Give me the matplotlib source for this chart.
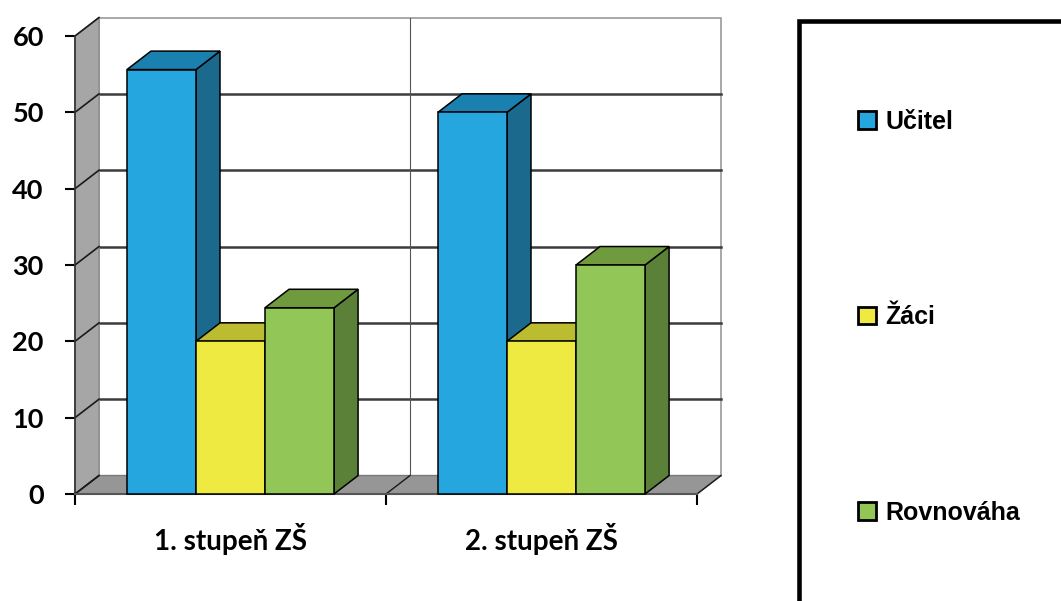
import matplotlib
matplotlib.use("Agg")
import matplotlib.pyplot as plt
from matplotlib.patches import Polygon, Rectangle, Patch
from matplotlib.lines import Line2D

# --- data -------------------------------------------------------------
categories = ["1. stupeň ZŠ", "2. stupeň ZŠ"]
series_names = ["Učitel", "Žáci", "Rovnováha"]
ucitel = [55.6, 50.0]
zaci = [20.0, 20.0]
rovnovaha = [24.4, 30.0]
y_ticks = [0, 10, 20, 30, 40, 50, 60]

series_values = [ucitel, zaci, rovnovaha]

# --- style ------------------------------------------------------------
front_colors = ["#26a6de", "#eeea42", "#92c757"]
top_colors = ["#1a80b0", "#bcbc30", "#709a3e"]
side_colors = ["#1b6a8e", "#a8a82a", "#5b8038"]
wall_color = "#a6a6a6"
floor_color = "#969696"
grid_color = "#3c3c3c"

DX = 0.0772   # depth offset along x (category units)
DY = 2.42     # depth offset along y (value units)
BAR_W = 0.222
YMAX = y_ticks[-1]
NCAT = len(categories)

fig = plt.figure(figsize=(10.61, 6.01), dpi=100)
ax = fig.add_axes([75 / 1061, 1 - 494 / 601, 622 / 1061, 458 / 601])
ax.set_xlim(0, NCAT)
ax.set_ylim(0, YMAX)
for s in ax.spines.values():
    s.set_visible(False)
ax.patch.set_visible(False)

# back wall
ax.add_patch(Polygon([(DX, DY), (NCAT + DX, DY), (NCAT + DX, YMAX + DY), (DX, YMAX + DY)],
                     closed=True, facecolor="white", edgecolor="#9a9a9a", lw=1.2,
                     clip_on=False, zorder=1))
for v in y_ticks[1:-1]:
    ax.add_line(Line2D([DX, NCAT + DX], [v + DY, v + DY], color=grid_color, lw=1.8,
                       clip_on=False, zorder=2))
for k in range(1, NCAT):
    ax.add_line(Line2D([k + DX, k + DX], [DY, YMAX + DY], color="#555555", lw=0.8,
                       clip_on=False, zorder=2))

# left side wall
ax.add_patch(Polygon([(0, 0), (0, YMAX), (DX, YMAX + DY), (DX, DY)], closed=True,
                     facecolor=wall_color, edgecolor="#8a8a8a", lw=1.0,
                     clip_on=False, zorder=3))
for v in y_ticks:
    ax.add_line(Line2D([0, DX], [v, v + DY], color="#1a1a1a", lw=1.2,
                       clip_on=False, zorder=4))
ax.add_line(Line2D([0, 0], [0, YMAX], color="#303030", lw=1.2, clip_on=False, zorder=4))

# floor
ax.add_patch(Polygon([(0, 0), (NCAT, 0), (NCAT + DX, DY), (DX, DY)], closed=True,
                     facecolor=floor_color, edgecolor="#7a7a7a", lw=1.0,
                     clip_on=False, zorder=3))
for k in range(0, NCAT + 1):
    ax.add_line(Line2D([k, k + DX], [0, DY], color="#1a1a1a", lw=1.0,
                       clip_on=False, zorder=4))
ax.add_line(Line2D([0, NCAT], [0, 0], color="#555555", lw=1.5, clip_on=False, zorder=4))

# bars
z = 10
for i in range(NCAT):
    center = i + 0.5
    for j, vals in enumerate(series_values):
        v = vals[i]
        x0 = center + (j - 1.5) * BAR_W
        x1 = x0 + BAR_W
        ax.add_patch(Polygon([(x1, 0), (x1 + DX, DY), (x1 + DX, v + DY), (x1, v)], closed=True,
                             facecolor=side_colors[j], edgecolor="black", lw=1.1,
                             clip_on=False, zorder=z))
        ax.add_patch(Polygon([(x0, v), (x1, v), (x1 + DX, v + DY), (x0 + DX, v + DY)], closed=True,
                             facecolor=top_colors[j], edgecolor="black", lw=1.1,
                             clip_on=False, zorder=z))
        ax.add_patch(Rectangle((x0, 0), BAR_W, v, facecolor=front_colors[j],
                               edgecolor="black", lw=1.1, clip_on=False, zorder=z + 1))
        z += 2

# axes ticks and labels
ax.set_yticks(y_ticks)
ax.set_yticklabels([str(t) for t in y_ticks], fontfamily="Lato", fontweight="bold",
                   fontsize=19.5)
ax.tick_params(axis="y", direction="out", length=7.5, width=1.5, pad=15, color="black")
ax.set_xticks(range(NCAT + 1))
ax.set_xticklabels([])
ax.tick_params(axis="x", which="major", direction="out", length=8, width=1.5, color="black")
ax.set_xticks([i + 0.5 for i in range(NCAT)], minor=True)
ax.set_xticklabels(categories, minor=True, fontfamily="Lato", fontweight="bold", fontsize=20)
ax.tick_params(axis="x", which="minor", length=0, pad=21)

# legend with frame
fig.patches.append(Rectangle((798.5 / 1061, -0.1), 0.5, 1 - 21 / 601 + 0.1,
                             transform=fig.transFigure, facecolor="none",
                             edgecolor="black", lw=3.3, zorder=1))
handles = [Patch(facecolor=c, edgecolor="black", lw=2.0) for c in front_colors]
fig.legend(handles, series_names, loc="upper left",
           bbox_to_anchor=(858 / 1061, 1 - 110 / 601), frameon=False,
           prop={"family": "Liberation Sans", "weight": "bold", "size": 18},
           handlelength=0.72, handleheight=0.72, handletextpad=0.36,
           labelspacing=6.85, borderpad=0, borderaxespad=0)

fig.savefig("out.png", dpi=100)
